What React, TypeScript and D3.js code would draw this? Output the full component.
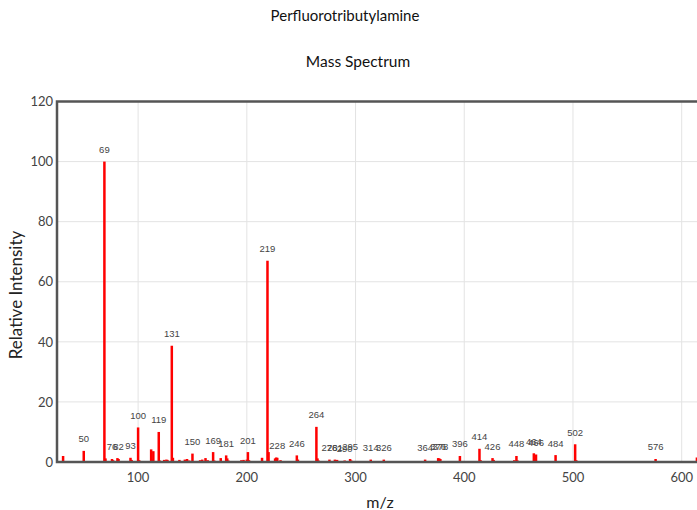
import React from "react";
import * as d3 from "d3";

// Perfluorotributylamine (PFTBA) EI mass spectrum: m/z and relative intensity
const mzValues: number[] = [
  31, 50, 69, 70, 76, 77, 81, 82, 93, 94, 100, 101, 112, 113, 114, 119, 120, 124, 126, 127,
  131, 132, 138, 143, 145, 147, 150, 157, 159, 162, 164, 169, 170, 176, 181, 182, 183, 195,
  197, 200, 201, 202, 214, 219, 220, 226, 227, 228, 231, 246, 247, 264, 265, 266, 276, 281,
  283, 290, 295, 296, 314, 326, 364, 376, 377, 378, 396, 414, 415, 426, 427, 446, 448, 449,
  464, 465, 466, 484, 502, 503, 576, 614,
];
const intensities: number[] = [
  2, 3.7, 100, 1.2, 1, 0.6, 1.3, 1, 1.4, 0.7, 11.5, 0.6, 4.2, 0.8, 3.6, 10, 0.5, 0.7, 0.8, 0.7,
  38.7, 1.4, 0.7, 0.8, 1, 0.5, 2.8, 0.6, 0.8, 1.3, 0.6, 3.3, 0.5, 1.3, 2.2, 1.2, 0.5, 0.6,
  0.7, 0.8, 3.3, 0.6, 1.4, 67, 3.3, 1.2, 1.5, 1.4, 0.6, 2.2, 0.8, 11.7, 1.2, 0.5, 0.8, 0.8,
  0.7, 0.5, 1.0, 0.5, 0.8, 0.8, 0.8, 1.3, 1.2, 1.0, 2, 4.4, 0.6, 1.3, 0.7, 0.6, 2, 0.5,
  2.9, 0.5, 2.5, 2.3, 5.9, 0.6, 1, 1.5,
];
// Peaks that carry an m/z annotation
const labeledPeaks: number[] = [
  50, 69, 76, 82, 93, 100, 119, 131, 150, 169, 181, 201, 219, 228, 246, 264, 276, 281, 290,
  295, 314, 326, 364, 376, 378, 396, 414, 426, 448, 464, 466, 484, 502, 576,
];
const xTicks: number[] = [100, 200, 300, 400, 500, 600];
const yTicks: number[] = [0, 20, 40, 60, 80, 100, 120];

const W = 697;
const H = 510;
const plot = { left: 57, right: 703, top: 101.5, bottom: 462 };
const FONT = "Lato, 'Open Sans', sans-serif";

export default function App() {
  const x = d3.scaleLinear().domain([25.4, 619.6]).range([plot.left, plot.right]);
  const y = d3.scaleLinear().domain([0, 120]).range([plot.bottom, plot.top]);

  const peaks = mzValues.map((mz, i) => ({ mz, v: intensities[i] }));
  const byMz = new Map(peaks.map((p) => [p.mz, p.v]));

  return (
    <div style={{ position: "fixed", left: 0, top: 0, width: W, height: H, overflow: "hidden", background: "#fff" }}>
      <svg width={W} height={H} style={{ display: "block" }}>
        <defs>
          <clipPath id="plot-clip">
            <rect x={plot.left} y={plot.top} width={plot.right - plot.left} height={plot.bottom - plot.top} />
          </clipPath>
        </defs>

        {/* grid */}
        {xTicks.map((t) => (
          <line key={"gx" + t} x1={x(t)} x2={x(t)} y1={plot.top} y2={plot.bottom} stroke="#e3e3e3" strokeWidth={1} />
        ))}
        {yTicks.filter((t) => t > 0 && t < 120).map((t) => (
          <line key={"gy" + t} x1={plot.left} x2={plot.right} y1={y(t)} y2={y(t)} stroke="#e3e3e3" strokeWidth={1} />
        ))}

        {/* peaks */}
        <g clipPath="url(#plot-clip)">
          {peaks.map((p) => (
            <rect key={"p" + p.mz} x={x(p.mz) - 1.25} width={2.5} y={y(p.v)} height={y(0) - y(p.v)} fill="#ff0000" />
          ))}
        </g>

        {/* peak annotations */}
        {labeledPeaks.map((mz) => (
          <text
            key={"l" + mz}
            x={x(mz)}
            y={y(byMz.get(mz) ?? 0) - 8.5}
            textAnchor="middle"
            fontFamily="'Liberation Sans', Arial, sans-serif"
            fontSize={9.5}
            fill="#444"
          >
            {mz}
          </text>
        ))}

        {/* frame */}
        <rect
          x={plot.left}
          y={plot.top}
          width={plot.right - plot.left}
          height={plot.bottom - plot.top}
          fill="none"
          stroke="#555"
          strokeWidth={2.5}
        />

        {/* axes ticks */}
        {yTicks.map((t) => (
          <text key={"yt" + t} x={plot.left - 4} y={y(t)} dy="0.36em" textAnchor="end" fontFamily={FONT} fontSize={13} fill="#444">
            {t}
          </text>
        ))}
        {xTicks.map((t) => (
          <text key={"xt" + t} x={x(t)} y={482} textAnchor="middle" fontFamily={FONT} fontSize={13} fill="#444">
            {t}
          </text>
        ))}

        {/* axis titles */}
        <text x={(plot.left + plot.right) / 2} y={508} textAnchor="middle" fontFamily={FONT} fontSize={16} fill="#222">
          m/z
        </text>
        <text
          transform={`translate(22, 295) rotate(-90)`}
          textAnchor="middle"
          fontFamily={FONT}
          fontSize={17}
          fill="#222"
        >
          Relative Intensity
        </text>

        {/* titles */}
        <text x={345} y={21} textAnchor="middle" fontFamily={FONT} fontSize={15} fill="#111">
          Perfluorotributylamine
        </text>
        <text x={358} y={67} textAnchor="middle" fontFamily={FONT} fontSize={15.5} fill="#111">
          Mass Spectrum
        </text>
      </svg>
    </div>
  );
}
